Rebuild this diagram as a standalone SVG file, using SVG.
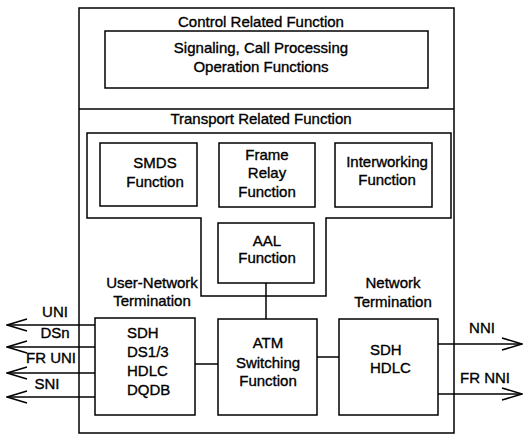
<svg xmlns="http://www.w3.org/2000/svg" width="527" height="437" viewBox="0 0 527 437">
<style>
rect, polygon, line, polyline { fill: none; stroke: #000; stroke-width: 1.5; }
text { font-family: "Liberation Sans", Arial, sans-serif; font-size: 15px; fill: #000; stroke: #000; stroke-width: 0.35; text-anchor: middle; }
.l { text-anchor: start; }
</style>
<defs>
<marker id="arr" viewBox="0 0 22 14" refX="21" refY="7" markerWidth="22" markerHeight="14" markerUnits="userSpaceOnUse" orient="auto">
<polyline points="1,1 21,7 1,13" style="fill:none;stroke:#000;stroke-width:1.5"/>
</marker>
</defs>
<rect width="527" height="437" style="fill:#fff;stroke:none"/>
<g id="outer">
<rect x="79" y="8" width="375" height="425"/>
<line x1="79" y1="109" x2="454" y2="109"/>
<text x="261" y="27">Control Related Function</text>
<text x="261" y="124">Transport Related Function</text>
</g>
<g id="signaling">
<rect x="105" y="31" width="323" height="57"/>
<text x="261" y="53">Signaling, Call Processing</text>
<text x="261" y="72">Operation Functions</text>
</g>
<g id="services">
<polygon points="87,133 451,133 451,218 326,218 326,296 201,296 201,218 87,218"/>
</g>
<g id="smds">
<rect x="100" y="143" width="97" height="63"/>
<text x="155" y="168">SMDS</text>
<text x="155" y="187">Function</text>
</g>
<g id="framerelay">
<rect x="219" y="143" width="96" height="64"/>
<text x="267" y="160">Frame</text>
<text x="267" y="178">Relay</text>
<text x="267" y="197">Function</text>
</g>
<g id="interworking">
<rect x="335" y="143" width="97" height="64"/>
<text x="387" y="167">Interworking</text>
<text x="387" y="185">Function</text>
</g>
<g id="aal">
<rect x="218" y="223" width="96" height="60"/>
<text x="267" y="246">AAL</text>
<text x="267" y="263">Function</text>
</g>
<g id="unt">
<rect x="95" y="318" width="100" height="97"/>
<text class="l" x="127" y="338">SDH</text>
<text class="l" x="127" y="357">DS1/3</text>
<text class="l" x="127" y="376">HDLC</text>
<text class="l" x="127" y="395">DQDB</text>
<text x="152" y="288">User-Network</text>
<text x="152" y="306">Termination</text>
</g>
<g id="atm">
<rect x="218" y="319" width="99" height="96"/>
<text x="268" y="348">ATM</text>
<text x="268" y="368">Switching</text>
<text x="268" y="386">Function</text>
</g>
<g id="nt">
<rect x="339" y="319" width="99" height="96"/>
<text class="l" x="370" y="355">SDH</text>
<text class="l" x="370" y="373">HDLC</text>
<text x="393" y="288">Network</text>
<text x="393" y="307">Termination</text>
</g>
<g id="connectors">
<line x1="266" y1="283" x2="266" y2="319"/>
<line x1="195" y1="364" x2="218" y2="364"/>
<line x1="317" y1="357" x2="339" y2="357"/>
<line x1="95" y1="325" x2="7" y2="325" marker-end="url(#arr)"/>
<line x1="95" y1="347" x2="7" y2="347" marker-end="url(#arr)"/>
<line x1="95" y1="373" x2="7" y2="373" marker-end="url(#arr)"/>
<line x1="95" y1="397" x2="7" y2="397" marker-end="url(#arr)"/>
<line x1="438" y1="344" x2="522" y2="344" marker-end="url(#arr)"/>
<line x1="438" y1="394" x2="522" y2="394" marker-end="url(#arr)"/>
<text x="55" y="317">UNI</text>
<text x="55" y="338">DSn</text>
<text x="51" y="363">FR UNI</text>
<text x="47" y="389">SNI</text>
<text x="482" y="333">NNI</text>
<text x="485" y="383">FR NNI</text>
</g>
</svg>
